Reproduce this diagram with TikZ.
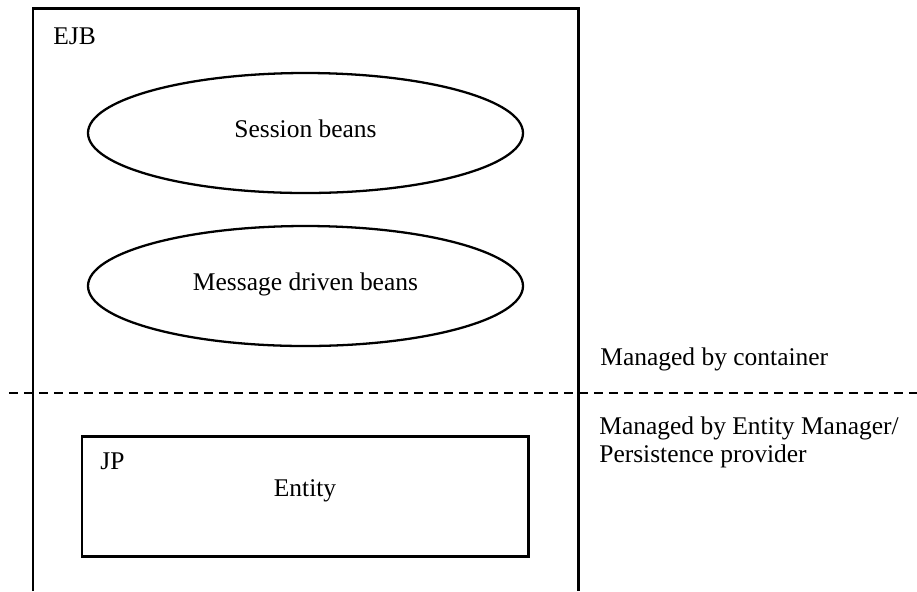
\documentclass[tikz,border=0pt]{standalone}
\usepackage{fontspec}
\setmainfont{Liberation Serif}
\usetikzlibrary{shapes.geometric}

\tikzset{
  bean/.style={shape=ellipse,draw=black,line width=1.3pt,minimum width=8.7cm,minimum height=2.4cm,inner sep=0pt,text height=0.3cm,text depth=0.14cm},
  lbl/.style={inner sep=0pt,anchor=base west},
}

\begin{document}
\begin{tikzpicture}[font=\fontsize{14.5}{17.5}\selectfont]
    \useasboundingbox (0,0) rectangle (18.34,-11.82);

    % EJB container, open at the bottom
    \coordinate (ejbBL) at (0.66,-11.82);
    \coordinate (ejbBR) at (11.56,-11.82);
    \draw[line width=1.7pt] (ejbBL) |- (11.56,-0.16) -- (ejbBR);
    \node[lbl] (ejb) at (1.06,-0.88) {EJB};

    \node[bean] (session) at (6.11,-2.66) {Session beans};
    \node[bean] (mdb) at (6.11,-5.72) {Message driven beans};

    % boundary between the two managed zones
    \coordinate (cutL) at (0.18,-7.86);
    \coordinate (cutR) at (18.34,-7.86);
    \draw[line width=1.6pt,dash pattern=on 0.18cm off 0.12cm] (cutL) -- (cutR);

    % JP box with the entity
    \node[draw=black,line width=1.7pt,minimum width=8.92cm,minimum height=2.4cm,inner sep=0pt] (jp) at (6.10,-9.92) {};
    \node[lbl] (jplbl) at (2.0,-9.38) {JP};
    \node[inner sep=0pt,anchor=base] (entity) at (6.1,-9.92) {Entity};

    \node[lbl] (cont) at (12.0,-7.30) {Managed by container};
    \node[lbl] (em1) at (11.98,-8.68) {Managed by Entity Manager/};
    \node[lbl] (em2) at (11.98,-9.24) {Persistence provider};
\end{tikzpicture}
\end{document}
